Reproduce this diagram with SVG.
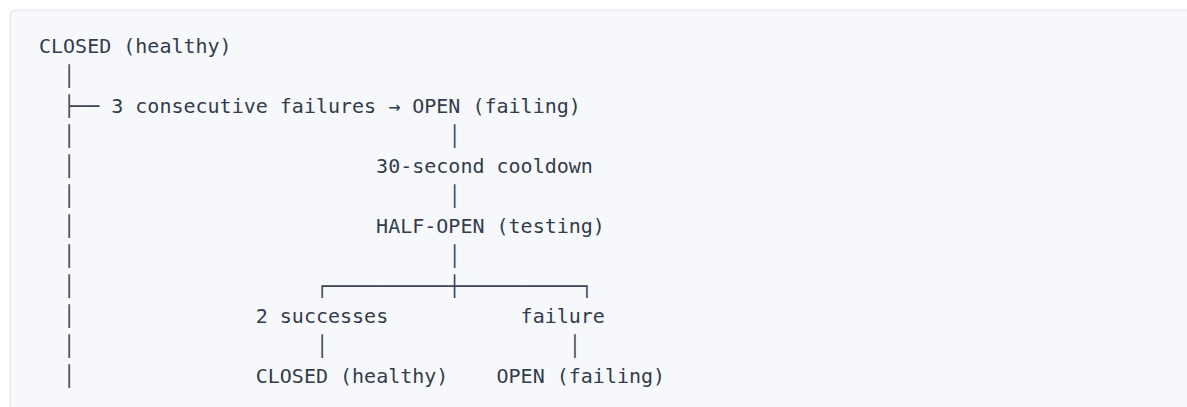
<svg xmlns="http://www.w3.org/2000/svg" width="1187" height="407" viewBox="0 0 1187 407">
<style>
text{font-family:"DejaVu Sans Mono","Liberation Mono",monospace;font-size:20px;fill:#333c4b;white-space:pre}
.c{fill:#3f4656}
</style>
<rect x="0" y="0" width="1187" height="407" fill="#ffffff"/>
<rect x="10" y="10" width="1200" height="430" rx="6" ry="6" fill="#f6f8fb" stroke="#e1e6ee" stroke-width="1.2"/>
<g id="connectors">
<text class="c" x="39" y="83" xml:space="preserve">  │</text>
<text class="c" x="39" y="113" xml:space="preserve">  ├──</text>
<text class="c" x="39" y="143" xml:space="preserve">  │                               │</text>
<text class="c" x="39" y="173" xml:space="preserve">  │</text>
<text class="c" x="39" y="203" xml:space="preserve">  │                               │</text>
<text class="c" x="39" y="233" xml:space="preserve">  │</text>
<text class="c" x="39" y="263" xml:space="preserve">  │                               │</text>
<text class="c" x="39" y="293" xml:space="preserve">  │                    ┌──────────┼──────────┐</text>
<text class="c" x="39" y="323" xml:space="preserve">  │</text>
<text class="c" x="39" y="353" xml:space="preserve">  │                    │                    │</text>
<text class="c" x="39" y="383" xml:space="preserve">  │</text>
<text id="label-fail" x="111.24" y="113" xml:space="preserve">3 consecutive failures →</text>
<text id="label-cooldown" x="376.12" y="173">30-second cooldown</text>
<text id="label-success" x="255.72" y="323">2 successes</text>
<text id="label-failure" x="520.6" y="323">failure</text>
</g>
<g id="node-closed"><text x="39" y="53">CLOSED (healthy)</text></g>
<g id="node-open"><text x="412.24" y="113">OPEN (failing)</text></g>
<g id="node-halfopen"><text x="376.12" y="233">HALF-OPEN (testing)</text></g>
<g id="node-closed2"><text x="255.72" y="383">CLOSED (healthy)</text></g>
<g id="node-open2"><text x="496.52" y="383">OPEN (failing)</text></g>
</svg>
